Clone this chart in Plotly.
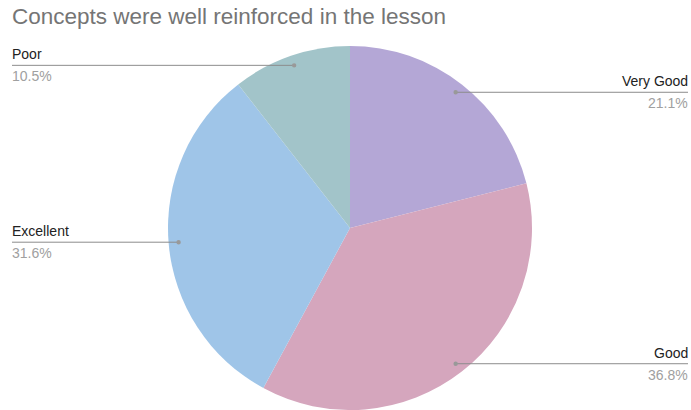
import math
import plotly.graph_objects as go

# Survey responses: "Concepts were well reinforced in the lesson"
labels = ["Very Good", "Good", "Excellent", "Poor"]
counts = [4, 7, 6, 2]
colors = ["#b4a7d6", "#d5a6bd", "#9fc5e8", "#a2c4c9"]

W, H = 691, 410
CX, CY, R = 350, 228, 182          # pie centre and radius in pixels (from top-left)
LEFT_X, RIGHT_X = 12, 688          # ends of the leader lines
FONT = "Liberation Sans, Arial, sans-serif"

fig = go.Figure(go.Pie(
    labels=labels,
    values=counts,
    marker=dict(colors=colors, line=dict(width=0)),
    sort=False,
    direction="clockwise",
    rotation=0,
    textinfo="none",
    hoverinfo="label+percent",
    showlegend=False,
    domain=dict(x=[(CX - R) / W, (CX + R) / W], y=[(H - CY - R) / H, (H - CY + R) / H]),
))

def px(x):
    return x / W

def py(y):
    return 1 - y / H

shapes = []
annotations = []
total = sum(counts)
cum = 0
for lab, v in zip(labels, counts):
    frac = v / total
    mid = (cum + frac / 2) * 2 * math.pi
    cum += frac
    dx = CX + 0.945 * R * math.sin(mid)
    dy = CY - 0.945 * R * math.cos(mid)
    right = math.sin(mid) > 0
    end_x = RIGHT_X if right else LEFT_X
    shapes.append(dict(type="line", xref="paper", yref="paper",
                       x0=px(dx), x1=px(end_x), y0=py(dy), y1=py(dy),
                       line=dict(color="#8c8c8c", width=1)))
    shapes.append(dict(type="circle", xref="paper", yref="paper",
                       x0=px(dx - 2.2), x1=px(dx + 2.2), y0=py(dy - 2.2), y1=py(dy + 2.2),
                       fillcolor="#999999", line=dict(width=0)))
    anchor = "right" if right else "left"
    shift = 2 if right else -2
    annotations.append(dict(xref="paper", yref="paper", x=px(end_x), y=py(dy - 1),
                            xanchor=anchor, yanchor="bottom", showarrow=False, xshift=shift,
                            text=lab, font=dict(family=FONT, size=14, color="#222222")))
    annotations.append(dict(xref="paper", yref="paper", x=px(end_x), y=py(dy + 1),
                            xanchor=anchor, yanchor="top", showarrow=False, xshift=shift,
                            text=f"{frac * 100:.1f}%", font=dict(family=FONT, size=14, color="#a0a0a0")))

annotations.append(dict(xref="paper", yref="paper", x=px(10), y=py(2),
                        xanchor="left", yanchor="top", showarrow=False,
                        text="Concepts were well reinforced in the lesson",
                        font=dict(family=FONT, size=22.5, color="#757575")))

fig.update_layout(
    width=W, height=H,
    margin=dict(l=0, r=0, t=0, b=0),
    paper_bgcolor="white",
    plot_bgcolor="white",
    shapes=shapes,
    annotations=annotations,
)

fig.write_html("out.html")
